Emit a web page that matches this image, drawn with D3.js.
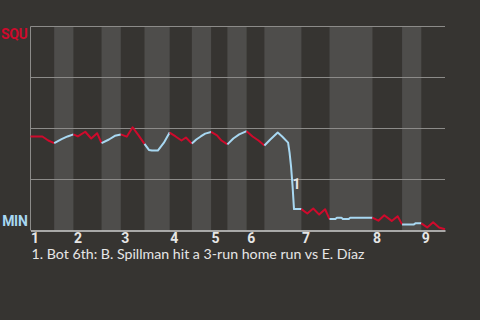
<!DOCTYPE html>
<html>
<head>
<meta charset="utf-8">
<script src="https://cdn.jsdelivr.net/npm/d3@7"></script>
<style>
  html, body { margin: 0; padding: 0; background: #363431; }
  svg { display: block; }
</style>
</head>
<body>
<div id="chart"></div>
<script>
const width = 480;
const height = 320;
const margin = { top: 26.5, right: 35, bottom: 89.5, left: 30.5 };

const awayTeam = "SQU";
const homeTeam = "MIN";

// innings on the x axis, placed where each inning starts (pitch count)
const innings = [1, 2, 3, 4, 5, 6, 7, 8, 9];
const inningStartPitch = [0, 29, 61, 94, 122, 146, 183, 231, 264];

// top / bottom half boundaries, pitch count
const halfBounds = [0, 16, 29, 48, 61, 77, 94, 109, 122, 133, 146, 158, 183, 202, 231, 251, 264, 280];

// SQU win probability (%) after each pitch event
const pitchIndex = [
    0, 4, 8, 12, 16,
    21, 25, 29,
    32, 37, 41, 45, 48,
    53, 57, 61,
    65, 69, 73, 77,
    80, 82, 86, 90, 94,
    98, 102, 105, 109,
    112, 115, 118, 122,
    126, 129, 133,
    137, 141, 146,
    150, 154, 158,
    162, 167, 170, 174, 175, 176, 177, 178, 183,
    187, 191, 195, 199, 202,
    206, 207, 210, 211, 215, 216, 231,
    235, 239, 244, 248, 251,
    259, 260, 264,
    268, 272, 276, 280
];
const squWinProb = [
    46.1, 46.1, 46.1, 44.1, 42.8,
    44.8, 46.1, 47.1,
    46.1, 48.4, 45.1, 47.7, 42.8,
    44.6, 46.4, 47.1,
    46.0, 50.6, 46.6, 42.5,
    39.5, 39.2, 39.2, 42.9, 48.0,
    46.1, 44.1, 45.6, 42.6,
    44.6, 46.1, 47.5, 48.3,
    46.6, 44.1, 42.2,
    45.1, 47.1, 48.7,
    46.1, 44.1, 41.7,
    44.6, 48.0, 46.1, 43.1, 38.2, 31.4, 22.1, 10.5, 10.5,
    8.3, 10.8, 7.8, 10.4, 5.6,
    5.6, 6.3, 6.3, 5.6, 5.6, 6.3, 6.3,
    4.8, 7.5, 4.7, 7.0, 3.0,
    3.0, 3.5, 3.5,
    1.5, 4.0, 1.5, 0.6
];

const noteLabels = ["1"];
const notePitch = [177];
const noteWinProb = [22.1];
const noteText = "1. Bot 6th: B. Spillman hit a 3-run home run vs E. Díaz";

const yGridValues = [25, 50, 75, 100];

const colors = {
    bg: "#363431",
    band: "#4e4d4b",
    away: "#cf0a2c",
    home: "#a8d8f2",
    grid: "#8c8b89",
    text: "#e6e6e6"
};

const labelFont = 'Roboto, "Open Sans", sans-serif';
const bodyFont = 'Lato, "Open Sans", sans-serif';

const points = pitchIndex.map((p, i) => ({ pitch: p, wp: squWinProb[i] }));

const svg = d3.select('#chart')
    .append('svg')
    .attr('width', width)
    .attr('height', height)
    .style('font-family', bodyFont);

svg.append('rect')
    .attr('width', width)
    .attr('height', height)
    .attr('fill', colors.bg);

const x = d3.scaleLinear()
    .domain([0, halfBounds[halfBounds.length - 1]])
    .range([margin.left, width - margin.right]);

const y = d3.scaleLinear()
    .domain([0, 100])
    .range([height - margin.bottom, margin.top]);

// bottom halves get the lighter band
const halves = d3.range(halfBounds.length - 1).map(i => ({
    start: halfBounds[i],
    end: halfBounds[i + 1],
    bottom: i % 2 === 1
}));

svg.append('g')
    .selectAll('rect')
    .data(halves.filter(d => d.bottom))
    .join('rect')
        .attr('x', d => x(d.start))
        .attr('y', y(100))
        .attr('width', d => x(d.end) - x(d.start))
        .attr('height', y(0) - y(100))
        .attr('fill', colors.band);

// horizontal grid
svg.append('g')
    .selectAll('line')
    .data(yGridValues)
    .join('line')
        .attr('x1', x.range()[0])
        .attr('x2', x.range()[1])
        .attr('y1', d => y(d))
        .attr('y2', d => y(d))
        .attr('stroke', colors.grid)
        .attr('stroke-width', 1);

svg.append('line')
    .attr('x1', x.range()[0])
    .attr('x2', x.range()[0])
    .attr('y1', y(0))
    .attr('y2', y(100))
    .attr('stroke', colors.grid)
    .attr('stroke-width', 1);

// win probability line, one piece per half inning
const line = d3.line()
    .x(d => x(d.pitch))
    .y(d => y(d.wp));

svg.append('g')
    .attr('fill', 'none')
    .attr('stroke-width', 2)
    .attr('stroke-linejoin', 'round')
    .selectAll('path')
    .data(halves)
    .join('path')
        .attr('stroke', d => d.bottom ? colors.home : colors.away)
        .attr('d', d => line(points.filter(p => p.pitch >= d.start && p.pitch <= d.end)));

// x axis with inning numbers
const xAxis = d3.axisBottom(x)
    .tickValues(inningStartPitch)
    .tickFormat((d, i) => innings[i])
    .tickSize(0)
    .tickPadding(3);

const gx = svg.append('g')
    .attr('transform', `translate(0,${y(0)})`)
    .call(xAxis);

gx.select('.domain')
    .attr('stroke', '#cfcfcf')
    .attr('stroke-width', 1.5);

gx.selectAll('text')
    .attr('text-anchor', 'start')
    .attr('fill', colors.text)
    .attr('font-size', '14px')
    .attr('font-weight', 'bold')
    .attr('font-family', labelFont);

// team labels
svg.append('text')
    .attr('x', margin.left - 3)
    .attr('y', y(100) + 12.5)
    .attr('text-anchor', 'end')
    .attr('fill', colors.away)
    .attr('font-size', '14px')
    .attr('letter-spacing', '-0.3px')
    .attr('font-weight', 'bold')
    .attr('font-family', labelFont)
    .text(awayTeam);

svg.append('text')
    .attr('x', margin.left - 3)
    .attr('y', y(0) - 4.5)
    .attr('text-anchor', 'end')
    .attr('fill', colors.home)
    .attr('font-size', '14px')
    .attr('letter-spacing', '-0.3px')
    .attr('font-weight', 'bold')
    .attr('font-family', labelFont)
    .text(homeTeam);

// note marker
svg.append('g')
    .selectAll('text')
    .data(noteLabels)
    .join('text')
        .attr('x', (d, i) => x(notePitch[i]))
        .attr('y', (d, i) => y(noteWinProb[i]) + 3.5)
        .attr('fill', colors.text)
        .attr('font-size', '14px')
        .attr('font-weight', 'bold')
        .attr('font-family', labelFont)
        .text(d => d);

svg.append('text')
    .attr('x', margin.left + 1)
    .attr('y', 259)
    .attr('fill', colors.text)
    .attr('font-size', '14.2px')
    .text(noteText);
</script>
</body>
</html>
